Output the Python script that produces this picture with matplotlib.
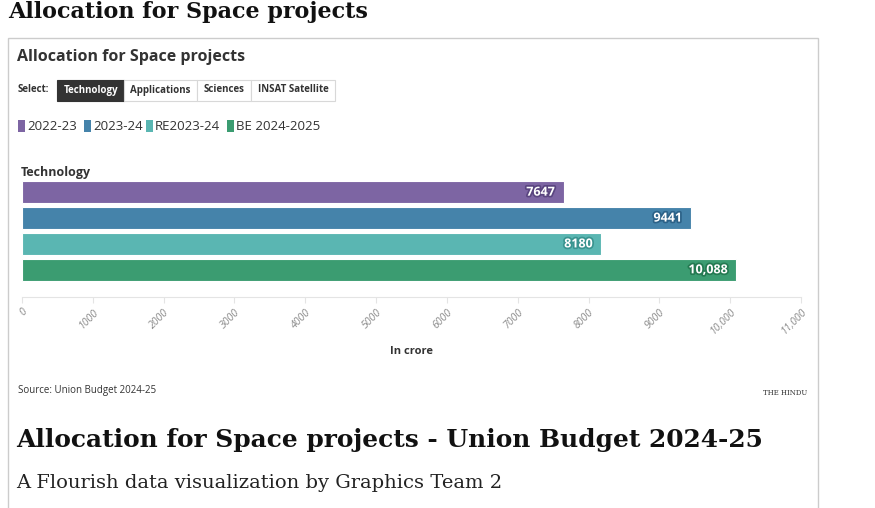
import matplotlib
matplotlib.use("Agg")
import matplotlib.pyplot as plt
import matplotlib.patheffects as pe
from matplotlib.patches import Rectangle

# data
category = "Technology"
series = ["2022-23", "2023-24", "RE2023-24", "BE 2024-2025"]
values = [7647, 9441, 8180, 10088]
value_labels = ["7647", "9441", "8180", "10,088"]
colors = ["#7d65a3", "#4583aa", "#5ab6b2", "#3b9c71"]
edge_colors = ["#5a4580", "#2c6288", "#3a9490", "#247a52"]
ticks = list(range(0, 11001, 1000))
tick_labels = ["0", "1000", "2000", "3000", "4000", "5000", "6000",
               "7000", "8000", "9000", "10,000", "11,000"]
buttons = ["Technology", "Applications", "Sciences", "INSAT Satellite"]

W, H = 875, 508
fig = plt.figure(figsize=(W / 100, H / 100), dpi=100)
fig.patch.set_facecolor("white")

def fx(x):
    return x / W

def fy(y):
    return 1 - y / H

sans = ["Open Sans", "DejaVu Sans"]
serif = ["DejaVu Serif"]

# card border
fig.add_artist(Rectangle((fx(8), fy(520)), fx(810), fy(38) - fy(520), transform=fig.transFigure,
                         fill=False, edgecolor="#cccccc", linewidth=1))

fig.text(fx(8), fy(12), "Allocation for Space projects", family=serif, weight="bold",
         fontsize=16, va="center", ha="left", color="#111111")
fig.text(fx(17), fy(57), "Allocation for Space projects", family=sans, weight="bold",
         fontsize=11.5, va="center", ha="left", color="#333333")

# select buttons
fig.text(fx(18), fy(90), "Select:", family=sans, weight="bold", fontsize=7,
         va="center", ha="left", color="#333333")
bx = [57, 124, 197, 251, 335]
for i, b in enumerate(buttons):
    active = i == 0
    fig.add_artist(Rectangle((fx(bx[i]), fy(101)), fx(bx[i + 1] - bx[i]), fy(80) - fy(101),
                             transform=fig.transFigure,
                             facecolor="#333333" if active else "white",
                             edgecolor="#333333" if active else "#d8d8d8", linewidth=0.8))
    fig.text(fx((bx[i] + bx[i + 1]) / 2), fy(90), b, family=sans, weight="bold", fontsize=7,
             va="center", ha="center", color="white" if active else "#333333")

# legend
lx = [18, 84, 146, 227]
for x, s, c in zip(lx, series, colors):
    fig.add_artist(Rectangle((fx(x), fy(132)), fx(7), fy(120) - fy(132), transform=fig.transFigure,
                             facecolor=c, edgecolor="none"))
    fig.text(fx(x + 9), fy(127), s, family=sans, fontsize=9.5, va="center", ha="left",
             color="#333333")

fig.text(fx(21), fy(172), category, family=sans, weight="bold", fontsize=9,
         va="center", ha="left", color="#333333")

# bars
ax = fig.add_axes([fx(22), fy(297), fx(801 - 22), fy(180) - fy(297)])
ypos = [0, 1, 2, 3]
ax.barh(ypos, values, height=0.86, color=colors, edgecolor="white", linewidth=0.8)
for y, v, lab, ec in zip(ypos, values, value_labels, edge_colors):
    ax.text(v - 120, y, lab, ha="right", va="center", color="white", weight="bold",
            family=sans, fontsize=9,
            path_effects=[pe.withStroke(linewidth=2.5, foreground=ec)])
ax.set_xlim(0, 11000)
ax.set_ylim(4.05, -0.47)
ax.set_yticks([])
ax.set_xticks(ticks)
ax.set_xticklabels(tick_labels, rotation=45, ha="right", rotation_mode="anchor",
                   family=sans, fontsize=7.5, color="#8a8a8a", style="italic")
ax.tick_params(axis="x", length=4, color="#e4e4e4", pad=3)
for s in ["top", "left", "right"]:
    ax.spines[s].set_visible(False)
ax.spines["bottom"].set_color("#e4e4e4")
ax.set_facecolor("none")

fig.text(fx(411), fy(352), "In crore", family=sans, weight="bold", fontsize=8,
         va="center", ha="center", color="#333333")
fig.text(fx(18), fy(390), "Source: Union Budget 2024-25", family=sans, fontsize=7,
         va="center", ha="left", color="#333333")
fig.text(fx(785), fy(393), "THE HINDU", family=["DejaVu Serif"], fontsize=5,
         va="center", ha="center", color="#333333")

fig.text(fx(16), fy(440), "Allocation for Space projects - Union Budget 2024-25", family=serif,
         weight="bold", fontsize=17.9, va="center", ha="left", color="#111111")
fig.text(fx(16), fy(483), "A Flourish data visualization by Graphics Team 2", family=serif,
         fontsize=14, va="center", ha="left", color="#222222")

fig.savefig("out.png", dpi=100, facecolor="white")
